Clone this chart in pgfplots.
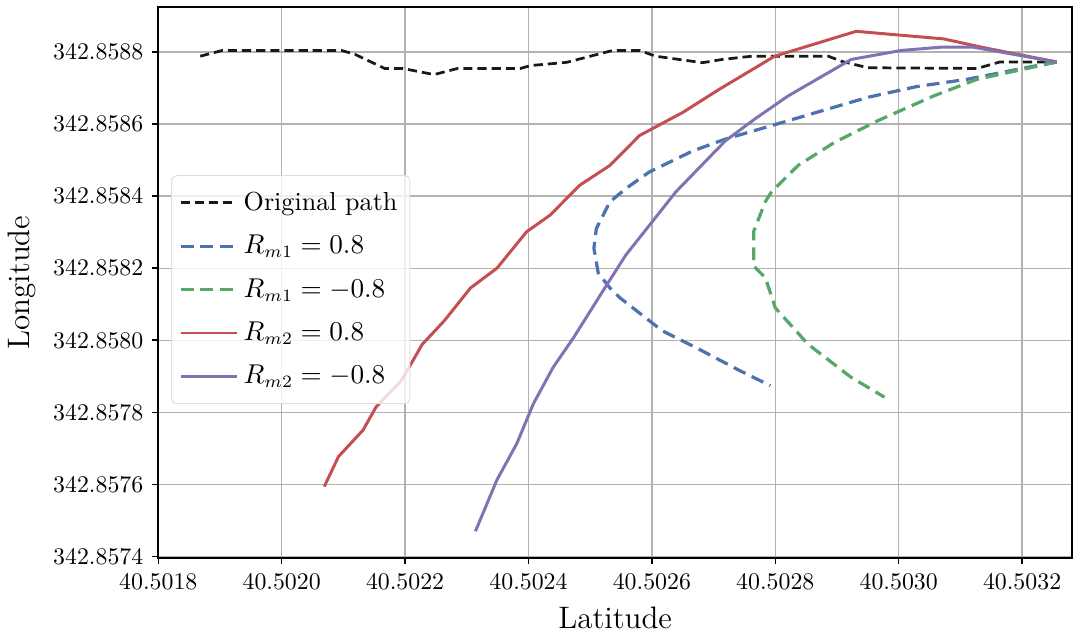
\documentclass[border=0pt]{standalone}
\usepackage{pgfplots}
\pgfplotsset{compat=1.18}

\definecolor{cblue}{HTML}{4C72B0}
\definecolor{cgreen}{HTML}{55A868}
\definecolor{cred}{HTML}{C44E52}
\definecolor{cpurple}{HTML}{8172B2}

% the coordinates differ only in the 5th-6th decimal, too fine for the fpu:
% keep the last digits (units of 1e-6 degree) as the plotted value
\makeatletter
\def\mytrafo#1#2{%
  \edef\tmpc{#2}%
  \expandafter\pgfutil@in@\expandafter Y\expandafter{\tmpc}%
  \ifpgfutil@in@\else\pgfmathfloatparsenumber{\tmpc}\let\tmpc\pgfmathresult\fi
  \pgfmathfloattomacro{\tmpc}{\tF}{\tM}{\tE}%
  \expandafter#1\tM 000000\relax}
\makeatother
\def\stripx4.050#1#2#3#4#5\relax{\def\pgfmathresult{#1#2#3#4}}
\def\stripy3.4285#1#2#3#4#5\relax{\def\pgfmathresult{#1#2#3#4}}
\pgfplotsset{
  x coord trafo/.code={\mytrafo\stripx{#1}},
  y coord trafo/.code={\mytrafo\stripy{#1}},
}

\begin{document}
\begin{tikzpicture}
\begin{axis}[
    width=368pt, height=221.8pt, scale only axis,
    xmin=40.501800, xmax=40.503281,
    ymin=342.857396, ymax=342.858924,
    xtick={40.501800,40.502000,40.502200,40.502400,40.502600,40.502800,40.503000,40.503200},
    xticklabels={40.5018,40.5020,40.5022,40.5024,40.5026,40.5028,40.5030,40.5032},
    ytick={342.857400,342.857600,342.857800,342.858000,342.858200,342.858400,342.858600,342.858800},
    yticklabels={342.8574,342.8576,342.8578,342.8580,342.8582,342.8584,342.8586,342.8588},
    scaled ticks=false,
    xlabel={Latitude}, ylabel={Longitude},
    tick label style={font=\fontsize{9.6}{11}\selectfont},
    label style={font=\fontsize{12.5}{15}\selectfont},
    grid=major,
    major grid style={line width=0.5pt, draw=gray!60},
    axis line style={line width=0.8pt},
    tick style={black, line width=0.6pt},
    tick align=outside, major tick length=2.5pt,
    xtick pos=bottom, ytick pos=left,
    legend cell align=left,
    legend style={at={(0.014,0.695)}, anchor=north west, draw=gray!25,
        rounded corners=2pt, fill=white, fill opacity=0.8, text opacity=1,
        font=\fontsize{10.5}{12}\selectfont, row sep=4.5pt,
        inner xsep=3pt, inner ysep=4.5pt},
    legend image code/.code={\draw[mark repeat=2,mark phase=2]
        plot coordinates {(0cm,0cm) (0.8cm,0cm)};},
]
\addplot[black!90, line width=1.1pt, dash pattern=on 3.7pt off 2pt] coordinates {
(40.501868,342.858788) (40.501904,342.858804) (40.502097,342.858804)
(40.502119,342.858793) (40.502167,342.858754) (40.502196,342.858754)
(40.502247,342.858737) (40.502285,342.858754) (40.502387,342.858754)
(40.502403,342.858762) (40.502462,342.858771) (40.502489,342.858783)
(40.502532,342.858802) (40.502542,342.858804) (40.502580,342.858804)
(40.502606,342.858788) (40.502682,342.858770) (40.502714,342.858779)
(40.502762,342.858788) (40.502886,342.858788) (40.502907,342.858774)
(40.502950,342.858756) (40.503127,342.858754) (40.503164,342.858772)
(40.503256,342.858772)
};
\addlegendentry{Original path}

\addplot[cblue, line width=1.3pt, dash pattern=on 5.2pt off 2.8pt] coordinates {
(40.503256,342.858772) (40.503218,342.858760) (40.503111,342.858724)
(40.503030,342.858704) (40.502950,342.858674) (40.502811,342.858604)
(40.502719,342.858558) (40.502666,342.858525) (40.502596,342.858467)
(40.502558,342.858421) (40.502532,342.858384) (40.502510,342.858310)
(40.502506,342.858255) (40.502513,342.858187) (40.502532,342.858145)
(40.502548,342.858118) (40.502617,342.858026) (40.502671,342.857980)
(40.502741,342.857917) (40.502792,342.857874)
};
\addlegendentry{$R_{m1}=0.8$}

\addplot[cgreen, line width=1.3pt, dash pattern=on 5.2pt off 2.8pt] coordinates {
(40.503256,342.858772) (40.503224,342.858760) (40.503127,342.858724)
(40.503057,342.858678) (40.502966,342.858609) (40.502896,342.858549)
(40.502837,342.858485) (40.502794,342.858412) (40.502784,342.858385)
(40.502765,342.858302) (40.502765,342.858206) (40.502784,342.858173)
(40.502800,342.858090) (40.502853,342.857989) (40.502923,342.857897)
(40.502977,342.857842)
};
\addlegendentry{$R_{m1}=-0.8$}

\addplot[cred, line width=1.2pt] coordinates {
(40.503256,342.858772) (40.503137,342.858812) (40.503073,342.858836)
(40.502931,342.858857) (40.502799,342.858788) (40.502709,342.858696)
(40.502650,342.858632) (40.502580,342.858568) (40.502532,342.858485)
(40.502483,342.858430) (40.502435,342.858347) (40.502397,342.858301)
(40.502349,342.858200) (40.502306,342.858145) (40.502263,342.858053)
(40.502228,342.857989) (40.502194,342.857888) (40.502153,342.857815)
(40.502132,342.857751) (40.502092,342.857677) (40.502069,342.857594)
};
\addlegendentry{$R_{m2}=0.8$}

\addplot[cpurple, line width=1.2pt] coordinates {
(40.503256,342.858772) (40.503121,342.858813) (40.503068,342.858813)
(40.503004,342.858804) (40.502923,342.858779) (40.502821,342.858678)
(40.502767,342.858614) (40.502719,342.858553) (40.502639,342.858412)
(40.502596,342.858319) (40.502558,342.858237) (40.502527,342.858154)
(40.502473,342.858007) (40.502440,342.857925) (40.502408,342.857824)
(40.502381,342.857713) (40.502349,342.857613) (40.502314,342.857470)
};
\addlegendentry{$R_{m2}=-0.8$}
\end{axis}
\path (current axis.north east) ++(5.2pt,2.9pt);
\end{tikzpicture}
\end{document}
